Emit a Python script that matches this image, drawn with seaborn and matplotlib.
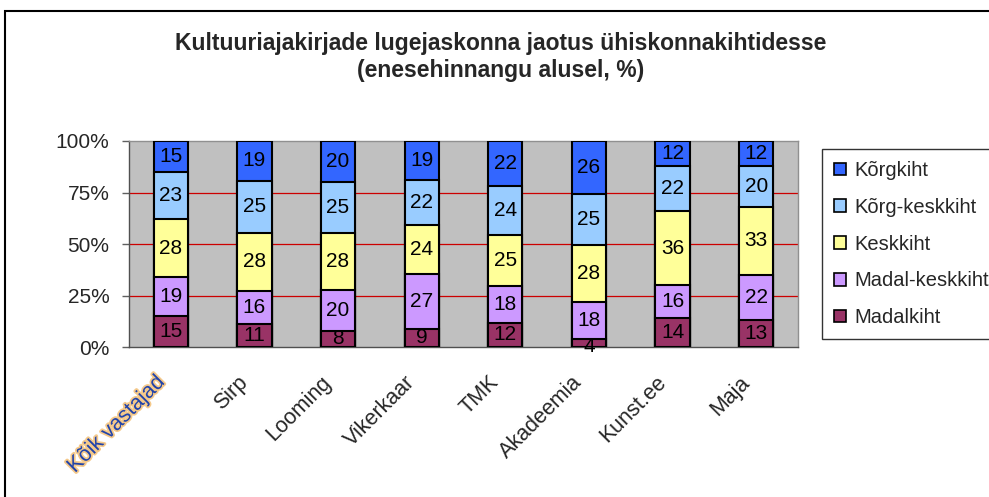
import matplotlib.pyplot as plt
import matplotlib.patheffects as pe
import matplotlib.transforms as mtransforms
from matplotlib.patches import Patch, Rectangle
from matplotlib.ticker import FixedLocator, PercentFormatter
import seaborn as sns
import numpy as np

# Data (raw survey numbers, bottom to top of each bar)
categories = ['Kõik vastajad', 'Sirp', 'Looming', 'Vikerkaar', 'TMK', 'Akadeemia', 'Kunst.ee', 'Maja']
madalkiht = [15, 11, 8, 9, 12, 4, 14, 13]
madal_keskkiht = [19, 16, 20, 27, 18, 18, 16, 22]
keskkiht = [28, 28, 28, 24, 25, 28, 36, 33]
korg_keskkiht = [23, 25, 25, 22, 24, 25, 22, 20]
korgkiht = [15, 19, 20, 19, 22, 26, 12, 12]

series_names = ['Madalkiht', 'Madal-keskkiht', 'Keskkiht', 'Kõrg-keskkiht', 'Kõrgkiht']
series_colors = ['#993366', '#CC99FF', '#FFFF99', '#99CCFF', '#3366FF']

sns.set_style('white')
plt.rcParams['font.family'] = ['Liberation Sans', 'DejaVu Sans']

vals = np.array([madalkiht, madal_keskkiht, keskkiht, korg_keskkiht, korgkiht], dtype=float)
pct = vals / vals.sum(axis=0) * 100
cum = np.cumsum(pct, axis=0)

fig = plt.figure(figsize=(9.89, 4.97), dpi=100)
ax = fig.add_axes([0.1304, 0.3018, 0.6765, 0.4145])
ax.set_facecolor('#C0C0C0')

# draw stacked bars: tallest cumulative first, then overlay lower ones
for i in range(len(series_names) - 1, -1, -1):
    sns.barplot(x=categories, y=cum[i], color=series_colors[i], saturation=1,
                width=0.41, edgecolor='black', linewidth=1.5, ax=ax, zorder=3)

# value labels
for i in range(len(series_names)):
    for j in range(len(categories)):
        yc = cum[i, j] - pct[i, j] / 2
        if vals[i, j] < 6:
            yc = cum[i, j] - pct[i, j] / 2 - 1.5
        ax.text(j, yc, f'{int(vals[i, j])}', ha='center', va='center',
                fontsize=15, color='black', zorder=5)

ax.set_ylim(0, 100)
ax.set_xlim(-0.5, len(categories) - 0.5)
ax.yaxis.set_major_locator(FixedLocator([0, 25, 50, 75, 100]))
ax.yaxis.set_major_formatter(PercentFormatter(decimals=0))
ax.grid(False)
for yv in [25, 50, 75]:
    ax.axhline(yv, color='#CC0000', linewidth=0.9, zorder=1)

ax.set_xticks(range(len(categories)))
ax.set_xticklabels(categories, rotation=45, ha='right', va='top',
                   rotation_mode='anchor', fontsize=15.5)
ax.xaxis.set_minor_locator(FixedLocator(np.arange(-0.5, len(categories), 1)))
ax.tick_params(axis='x', which='major', length=0, pad=18)
ax.tick_params(axis='x', which='minor', length=5, width=1, color='#606060', direction='out')
ax.tick_params(axis='y', length=5, width=1, color='#606060', direction='out',
               labelsize=15, left=True, pad=9)
ax.set_xlabel('')
ax.set_ylabel('')

# shift rotated labels a bit to the left like the original
shift = mtransforms.ScaledTranslation(-17 / 100, 0, fig.dpi_scale_trans)
for lab in ax.get_xticklabels():
    lab.set_transform(lab.get_transform() + shift)

first = ax.get_xticklabels()[0]
first.set_color('#2244AA')
first.set_path_effects([pe.withStroke(linewidth=2.5, foreground='#F5C98A')])

for s in ['top', 'right']:
    ax.spines[s].set_color('#909090')
    ax.spines[s].set_linewidth(1)
for s in ['left', 'bottom']:
    ax.spines[s].set_color('#505050')
    ax.spines[s].set_linewidth(1)

# legend (top series first)
handles = [Patch(facecolor=series_colors[i], edgecolor='black', linewidth=1.2)
           for i in range(len(series_names) - 1, -1, -1)]
labels = series_names[::-1]
leg = fig.legend(handles, labels, loc='upper left', bbox_to_anchor=(0.831, 0.700),
                 fontsize=14.5, frameon=True, fancybox=False, edgecolor='black',
                 handlelength=0.6, handleheight=0.6, handletextpad=0.4,
                 labelspacing=0.88, borderpad=0.6, borderaxespad=0)
leg.get_frame().set_linewidth(1)

# title
fig.text(0.506, 0.885, 'Kultuuriajakirjade lugejaskonna jaotus ühiskonnakihtidesse\n(enesehinnangu alusel, %)',
         ha='center', va='center', fontsize=16.5, fontweight='bold', linespacing=1.2)

# outer chart border
fig.patches.append(Rectangle((5 / 989, -0.1), 1.2, 1 - 11 / 497 + 0.1,
                             transform=fig.transFigure, fill=False,
                             edgecolor='black', linewidth=1.5, clip_on=False))

fig.savefig('out.png', dpi=100)
